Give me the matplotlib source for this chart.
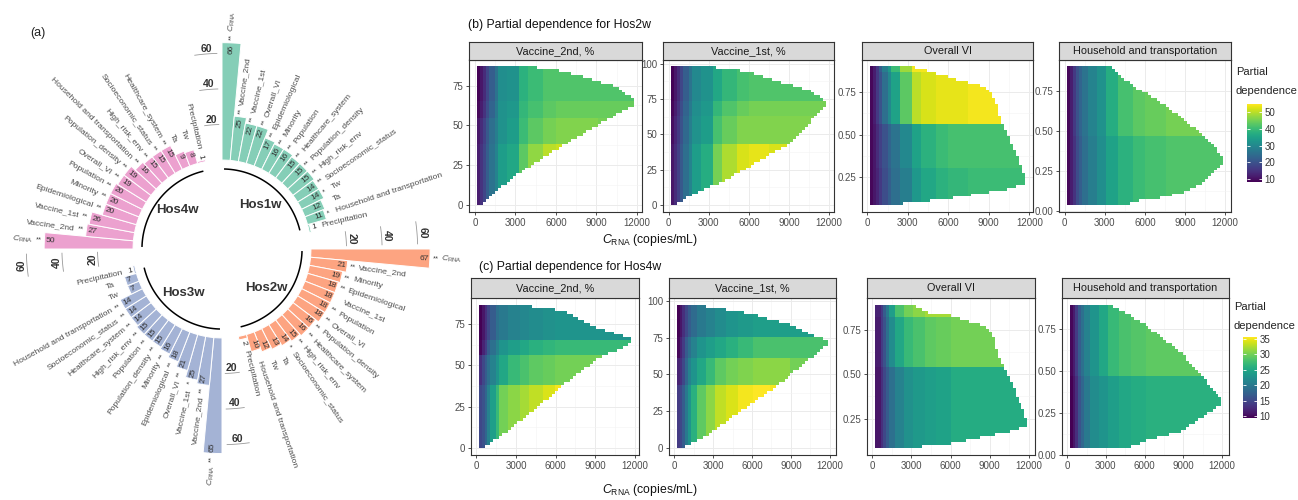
import numpy as np
import matplotlib
matplotlib.use('Agg')
import matplotlib.pyplot as plt
import matplotlib.colors as mcolors
from matplotlib.path import Path
from matplotlib.cm import ScalarMappable

plt.rcParams['font.family'] = ['Liberation Sans', 'DejaVu Sans']
plt.rcParams['mathtext.fontset'] = 'custom'
plt.rcParams['mathtext.rm'] = 'Liberation Sans'
plt.rcParams['mathtext.it'] = 'Liberation Sans:italic'
plt.rcParams['mathtext.bf'] = 'Liberation Sans:bold'

# ---------------- data: panel (a) ----------------
group_names = ['Hos1w', 'Hos2w', 'Hos3w', 'Hos4w']

hos1w_labels = ['C_RNA', 'Vaccine_2nd', 'Vaccine_1st', 'Overall_VI', 'Epidemiological', 'Minority',
                'Population', 'Healthcare_system', 'Population_density', 'High_risk_env',
                'Socioeconomic_status', 'Tw', 'Ta', 'Household and transportation', 'Precipitation']
hos1w_values = [66, 25, 22, 22, 17, 16, 16, 15, 15, 15, 14, 14, 12, 11, 1]
hos1w_stars = ['**', '**', '**', '**', '**', '**', '**', '**', '**', '**', '**', '*', '', '*', '']

hos2w_labels = ['C_RNA', 'Vaccine_2nd', 'Minority', 'Epidemiological', 'Vaccine_1st', 'Population',
                'Overall_VI', 'Population_density', 'Healthcare_system', 'High_risk_env',
                'Socioeconomic_status', 'Ta', 'Tw', 'Household and transportation', 'Precipitation']
hos2w_values = [67, 21, 19, 18, 18, 18, 18, 16, 16, 15, 14, 13, 12, 10, 2]
hos2w_stars = ['**', '**', '**', '**', '', '**', '**', '**', '**', '**', '*', '', '', '', '']

hos3w_labels = ['C_RNA', 'Vaccine_2nd', 'Vaccine_1st', 'Overall_VI', 'Epidemiological', 'Minority',
                'Population_density', 'Population', 'High_risk_env', 'Healthcare_system',
                'Socioeconomic_status', 'Household and transportation', 'Tw', 'Ta', 'Precipitation']
hos3w_values = [65, 27, 25, 21, 18, 16, 15, 15, 15, 14, 14, 14, 7, 7, 1]
hos3w_stars = ['**', '**', '*', '**', '**', '**', '**', '**', '**', '**', '**', '**', '', '', '']

hos4w_labels = ['C_RNA', 'Vaccine_2nd', 'Vaccine_1st', 'Epidemiological', 'Minority', 'Population',
                'Overall_VI', 'Population_density', 'Household and transportation', 'High_risk_env',
                'Socioeconomic_status', 'Healthcare_system', 'Ta', 'Tw', 'Precipitation']
hos4w_values = [50, 27, 26, 20, 20, 20, 19, 19, 16, 15, 15, 15, 9, 8, 1]
hos4w_stars = ['**', '**', '**', '**', '**', '**', '**', '**', '**', '**', '**', '**', '', '', '']

radial_ticks = [20, 40, 60]
group_colors = ['#66C2A5', '#FC8D62', '#8DA0CB', '#E78AC3']

# ---------------- data: panels (b), (c) ----------------
CRNA_EDGES = [0, 300, 550, 800, 1100, 1400, 1800, 2500, 3200, 4000, 5000, 6000, 7500, 9000, 13000]
x_ticks = [0, 3000, 6000, 9000, 12000]

b1_hull_x = [150, 500, 1500, 3250, 7000, 11800, 11800, 10400, 6750, 5600, 3200, 150]
b1_hull_y = [0, 0, 8, 20, 40, 63, 66, 74.7, 83.5, 85.5, 87, 87]
b1_bands = [0, 38, 55, 65, 88]
b1_pd = [[12, 15, 18, 22, 26, 29, 34, 36, 43, 47, 50, 51, 51, 50],
         [11, 14, 17, 21, 25, 28, 32, 34, 40, 43, 45, 46, 46, 45],
         [9, 12, 15, 19, 23, 27, 32, 33, 39, 41, 43, 44, 44, 44],
         [8.5, 11, 14, 18, 22, 26, 31, 32, 38, 40, 42, 42, 42, 42]]

b2_hull_x = [150, 430, 1800, 4300, 9000, 11800, 11800, 10500, 7800, 6100, 4300, 2430, 150]
b2_hull_y = [0, 0, 8, 18, 43, 70, 73, 81.6, 88.6, 94, 96.3, 98, 98]
b2_bands = [0, 43, 64, 74, 99]
b2_pd = [[11, 14, 17, 21, 25, 29, 34, 37, 45, 49, 52, 53, 52, 51],
         [10, 13, 16, 20, 24, 28, 32, 34, 41, 44, 46, 46, 46, 46],
         [9, 12, 15, 19, 23, 27, 31, 33, 39, 42, 44, 45, 45, 45],
         [8.5, 11, 14, 18, 22, 26, 30, 32, 36, 39, 41, 42, 42, 42]]

b3_hull_x = [180, 1700, 5600, 10300, 11700, 11700, 11000, 10300, 9900, 9500, 8800, 6800, 4600, 3200, 180]
b3_hull_y = [0.087, 0.087, 0.12, 0.18, 0.215, 0.24, 0.40, 0.52, 0.58, 0.70, 0.78, 0.82, 0.87, 0.90, 0.90]
b3_bands = [0.08, 0.30, 0.56, 0.87, 0.91]
b3_pd = [[9, 11, 13, 16, 19, 22, 25, 28, 33, 36, 38, 39, 40, 40],
         [9, 11, 14, 17, 20, 23, 26, 30, 35, 38, 40, 41, 41, 41],
         [9, 12, 16, 20, 25, 30, 35, 43, 50, 52, 53, 53, 54, 54],
         [9, 12, 16, 22, 28, 33, 40, 48, 54, 54, 54, 54, 54, 54]]

b4_hull_x = [170, 4800, 5000, 6300, 8800, 10500, 11850, 11850, 11200, 10000, 7500, 5000, 3500, 170]
b4_hull_y = [0.035, 0.035, 0.058, 0.068, 0.11, 0.18, 0.30, 0.33, 0.40, 0.50, 0.667, 0.79, 0.907, 0.907]
b4_bands = [0.03, 0.47, 0.91]
b4_pd = [[9, 12, 15, 19, 22, 25, 28, 31, 35, 38, 40, 41, 42, 42],
         [9, 12, 16, 20, 23, 26, 29, 32, 37, 41, 43, 44, 45, 45]]

c1_hull_x = [175, 430, 2070, 4850, 6870, 9150, 11730, 11730, 9900, 7630, 6800, 5600, 3200, 175]
c1_hull_y = [0, 0, 8.5, 25.8, 40, 53.5, 63.5, 66, 70.6, 78.7, 83, 84.5, 86.8, 86.8]
c1_bands = [0, 38, 56, 66, 88]
c1_pd = [[15, 16, 18, 21, 24, 27, 30, 31, 32, 33, 34, 35, 35, 34],
         [13, 15, 17, 19, 21, 23, 25, 27, 28, 29, 29.5, 30, 30, 30],
         [10, 12, 14, 17, 19, 21, 23, 24, 25, 26, 26.5, 27, 27, 27],
         [9.5, 11, 13, 15, 17, 19, 20, 21, 21.5, 22, 22.5, 23, 23, 23]]

c2_hull_x = [180, 515, 2440, 5000, 7600, 10150, 11900, 11900, 10900, 9100, 6000, 4500, 1800, 180]
c2_hull_y = [0, 0, 8, 24, 40, 58, 70.5, 73, 76, 84, 91.3, 93.7, 97.5, 97.5]
c2_bands = [0, 43, 61, 75, 99]
c2_pd = [[14, 15, 17, 20, 23, 26, 29, 31, 33, 34, 35, 35.5, 35, 34],
         [12, 13, 15, 18, 21, 23, 25, 27, 29, 30, 30.5, 31, 31, 30],
         [10, 12, 14, 17, 19, 21, 23, 24, 25, 26, 27, 28, 28, 28],
         [9.5, 11, 13, 15, 17, 18.5, 20, 21, 22, 23, 23.5, 24, 24, 24]]

c3_hull_x = [200, 1500, 5400, 8900, 10700, 11870, 11870, 11360, 10700, 10200, 9800, 9300, 9000, 8400,
             6600, 5700, 4200, 3200, 200]
c3_hull_y = [0.085, 0.085, 0.10, 0.155, 0.18, 0.21, 0.24, 0.33, 0.44, 0.52, 0.58, 0.70, 0.76, 0.78,
             0.82, 0.84, 0.85, 0.893, 0.893]
c3_bands = [0.08, 0.54, 0.83, 0.90]
c3_pd = [[9.5, 11, 13, 15, 17, 19, 21, 22.5, 23.5, 24, 24.5, 25.5, 25.5, 25.5],
         [10, 11.5, 14, 16, 19, 22, 25, 27, 28, 29, 29.5, 30, 30, 30],
         [10, 12, 14, 17, 20, 24, 28, 30, 31, 32, 32, 32, 32, 32]]

c4_hull_x = [185, 5000, 5000, 6300, 8900, 10150, 11950, 11950, 11440, 10150, 8870, 7580, 6290, 5000, 3470, 185]
c4_hull_y = [0.04, 0.04, 0.05, 0.09, 0.14, 0.21, 0.30, 0.33, 0.38, 0.49, 0.61, 0.68, 0.77, 0.83, 0.898, 0.898]
c4_bands = [0.03, 0.465, 0.91]
c4_pd = [[9.5, 11, 13, 16, 18, 20, 22, 23, 24, 25, 25.5, 26, 26, 26],
         [10, 11.5, 14, 17, 19, 21, 23, 25, 27, 28, 28.5, 29, 29, 29]]

strip_titles = ['Vaccine_2nd, %', 'Vaccine_1st, %', 'Overall VI', 'Household and transportation']
yticks_sets = [[0, 25, 50, 75], [0, 25, 50, 75, 100], [0.25, 0.50, 0.75], [0.00, 0.25, 0.50, 0.75]]
row_b_range = (8.2, 54.8)
row_c_range = (9.5, 35.5)
row_b_cbar_ticks = [10, 20, 30, 40, 50]
row_c_cbar_ticks = [10, 15, 20, 25, 30, 35]

# ---------------- figure ----------------
W, H = 1298, 500
fig = plt.figure(figsize=(W / 100, H / 100), dpi=100)


def px_axes(x0, y0, x1, y1, **kw):
    return fig.add_axes([x0 / W, 1 - y1 / H, (x1 - x0) / W, (y1 - y0) / H], **kw)


def blend(c, a=0.8):
    r = np.array(mcolors.to_rgb(c))
    return tuple(a * r + (1 - a))


# ---------- panel (a): circular bar chart ----------
cx, cy, R = 222, 249, 217
axp = px_axes(cx - R, cy - R, cx + R, cy + R, projection='polar')
axp.set_theta_zero_location('N')
axp.set_theta_direction(-1)
axp.set_ylim(-50, 72)
axp.axis('off')

slot = np.deg2rad(90 / 17)
groups = [(hos1w_labels, hos1w_values, hos1w_stars),
          (hos2w_labels, hos2w_values, hos2w_stars),
          (hos3w_labels, hos3w_values, hos3w_stars),
          (hos4w_labels, hos4w_values, hos4w_stars)]

for q, (labs, vals, stars) in enumerate(groups):
    th0 = q * np.pi / 2
    thetas = th0 + (np.arange(len(vals)) + 0.5) * slot
    axp.bar(thetas, vals, width=slot, bottom=0, color=blend(group_colors[q]),
            edgecolor='white', linewidth=0.7)
    for th, v, lab, st in zip(thetas, vals, labs, stars):
        deg = np.rad2deg(th) % 360
        right = deg < 180
        rot = 90 - deg if right else 270 - deg
        out_ha = 'left' if right else 'right'
        in_ha = 'right' if right else 'left'
        if v >= 5:
            axp.text(th, v - 0.8, str(v), rotation=rot, rotation_mode='anchor', ha=in_ha,
                     va='center', fontsize=6, color='#333333')
            r_next = v + 1.5
        else:
            axp.text(th, v + 0.8, str(v), rotation=rot, rotation_mode='anchor', ha=out_ha,
                     va='center', fontsize=6, color='#333333')
            r_next = v + 4
        if st:
            axp.text(th, r_next, st, rotation=rot, rotation_mode='anchor', ha=out_ha,
                     va='center', fontsize=5.5, color='#444444')
        label = r'$C_{\mathrm{RNA}}$' if lab == 'C_RNA' else lab
        axp.text(th, v + 6.5, label, rotation=rot, rotation_mode='anchor', ha=out_ha,
                 va='center', fontsize=6.1, color='#4D4D4D')
    # inner arc + group name
    arc_th = np.deg2rad(np.linspace(q * 90 + 2, q * 90 + 76, 80))
    axp.plot(arc_th, np.full(arc_th.shape, -5.0), color='black', lw=1.1)
    axp.text(np.deg2rad(q * 90 + 41), -17, group_names[q], ha='center', va='center',
             fontsize=9.5, fontweight='bold', color='#333333')
    # radial scale
    trot = [0, -90, 0, 90][q]
    off = -3 if q == 2 else 3
    for val in radial_ticks:
        tl = np.deg2rad(np.linspace(q * 90 - 8, q * 90 - 1.5, 10))
        axp.plot(tl, np.full(tl.shape, float(val)), color='#999999', lw=0.6)
        axp.text(np.deg2rad(q * 90 - 4.5), val + off, str(val), rotation=trot, ha='center',
                 va='center', fontsize=7.5, fontweight='bold', color='#333333')

fig.text(38 / W, 1 - 33 / H, '(a)', ha='center', va='center', fontsize=9, color='#222222')

# ---------- panels (b), (c): partial dependence heatmaps ----------
row_b = dict(strip_top=42, strip_bot=59.5, bottom=212,
             xs=[(469, 642), (663, 834), (862, 1033), (1059, 1231)],
             data=[(b1_hull_x, b1_hull_y, b1_bands, b1_pd), (b2_hull_x, b2_hull_y, b2_bands, b2_pd),
                   (b3_hull_x, b3_hull_y, b3_bands, b3_pd), (b4_hull_x, b4_hull_y, b4_bands, b4_pd)],
             rng=row_b_range, cbar=(1247, 104, 1262, 182), cticks=row_b_cbar_ticks,
             title='(b) Partial dependence for Hos2w', title_xy=(468, 25), leg_xy=(1236, 72),
             xlab_y=240)
row_c = dict(strip_top=278, strip_bot=297.5, bottom=455,
             xs=[(471, 639), (669, 836), (867, 1035), (1062, 1229)],
             data=[(c1_hull_x, c1_hull_y, c1_bands, c1_pd), (c2_hull_x, c2_hull_y, c2_bands, c2_pd),
                   (c3_hull_x, c3_hull_y, c3_bands, c3_pd), (c4_hull_x, c4_hull_y, c4_bands, c4_pd)],
             rng=row_c_range, cbar=(1243, 337, 1257, 418), cticks=row_c_cbar_ticks,
             title='(c) Partial dependence for Hos4w', title_xy=(479, 267), leg_xy=(1234, 307),
             xlab_y=490)

cmap = plt.get_cmap('viridis')
for row in (row_b, row_c):
    vmin, vmax = row['rng']
    for k, ((x0, x1), (hx, hy, bands, pd_tab)) in enumerate(zip(row['xs'], row['data'])):
        ax = px_axes(x0, row['strip_bot'], x1, row['bottom'])
        hx = np.asarray(hx, float)
        hy = np.asarray(hy, float)
        nx, ny = 52, 48
        xe = np.linspace(hx.min(), hx.max(), nx + 1)
        ye = np.linspace(hy.min(), hy.max(), ny + 1)
        XX, YY = np.meshgrid((xe[:-1] + xe[1:]) / 2, (ye[:-1] + ye[1:]) / 2)
        ci = np.clip(np.searchsorted(CRNA_EDGES, XX, side='right') - 1, 0, len(CRNA_EDGES) - 2)
        ri = np.clip(np.searchsorted(bands, YY, side='right') - 1, 0, len(bands) - 2)
        C = np.asarray(pd_tab, float)[ri, ci]
        inside = Path(np.column_stack([hx, hy])).contains_points(
            np.column_stack([XX.ravel(), YY.ravel()])).reshape(XX.shape)
        C = np.ma.masked_where(~inside, C)
        ax.pcolormesh(xe, ye, C, cmap=cmap, vmin=vmin, vmax=vmax, shading='flat',
                      edgecolors='none', antialiased=False, zorder=2)
        dx = (hx.max() - hx.min()) * 0.05
        dy = (hy.max() - hy.min()) * 0.05
        ax.set_xlim(hx.min() - dx, hx.max() + dx)
        ax.set_ylim(hy.min() - dy, hy.max() + dy)
        ax.set_xticks(x_ticks)
        ax.set_xticklabels([str(t) for t in x_ticks])
        yt = yticks_sets[k]
        ax.set_yticks(yt)
        if k >= 2:
            ax.set_yticklabels(['%.2f' % t for t in yt])
        else:
            ax.set_yticklabels([str(int(t)) for t in yt])
        ax.set_xticks([1500, 4500, 7500, 10500], minor=True)
        ax.set_yticks([(a + b) / 2 for a, b in zip(yt[:-1], yt[1:])], minor=True)
        ax.grid(True, which='major', color='#EBEBEB', lw=0.7)
        ax.grid(True, which='minor', color='#F3F3F3', lw=0.4)
        ax.set_axisbelow(True)
        ax.tick_params(which='major', labelsize=7, labelcolor='#4D4D4D', color='#333333',
                       length=2.5, width=0.6, pad=1.5)
        ax.tick_params(which='minor', length=0)
        for s in ax.spines.values():
            s.set_color('#333333')
            s.set_linewidth(0.8)
        # strip
        sax = px_axes(x0, row['strip_top'], x1, row['strip_bot'])
        sax.set_facecolor('#D9D9D9')
        sax.set_xticks([])
        sax.set_yticks([])
        for s in sax.spines.values():
            s.set_color('#333333')
            s.set_linewidth(0.8)
        sax.text(0.5, 0.5, strip_titles[k], transform=sax.transAxes, ha='center', va='center',
                 fontsize=7.8, color='#1A1A1A')
    # colorbar legend
    bx0, by0, bx1, by1 = row['cbar']
    cax = px_axes(bx0, by0, bx1, by1)
    sm = ScalarMappable(norm=mcolors.Normalize(vmin, vmax), cmap=cmap)
    cb = fig.colorbar(sm, cax=cax, ticks=row['cticks'])
    cb.outline.set_visible(False)
    cax.tick_params(which='both', direction='in', color='white', length=2.5, width=0.6,
                    left=True, right=True, labelsize=7, labelcolor='#333333', pad=2)
    lx, ly = row['leg_xy']
    fig.text(lx / W, 1 - ly / H, 'Partial', ha='left', va='center', fontsize=8, color='#222222')
    fig.text(lx / W, 1 - (ly + 19) / H, 'dependence', ha='left', va='center', fontsize=8,
             color='#222222')
    tx, ty = row['title_xy']
    fig.text(tx / W, 1 - ty / H, row['title'], ha='left', va='center', fontsize=8.8,
             color='#111111')
    fig.text(650 / W, 1 - row['xlab_y'] / H, r'$\mathit{C}_{\mathrm{RNA}}$ (copies/mL)',
             ha='center', va='center', fontsize=8.8, color='#111111')

fig.savefig('out.png', dpi=100)
